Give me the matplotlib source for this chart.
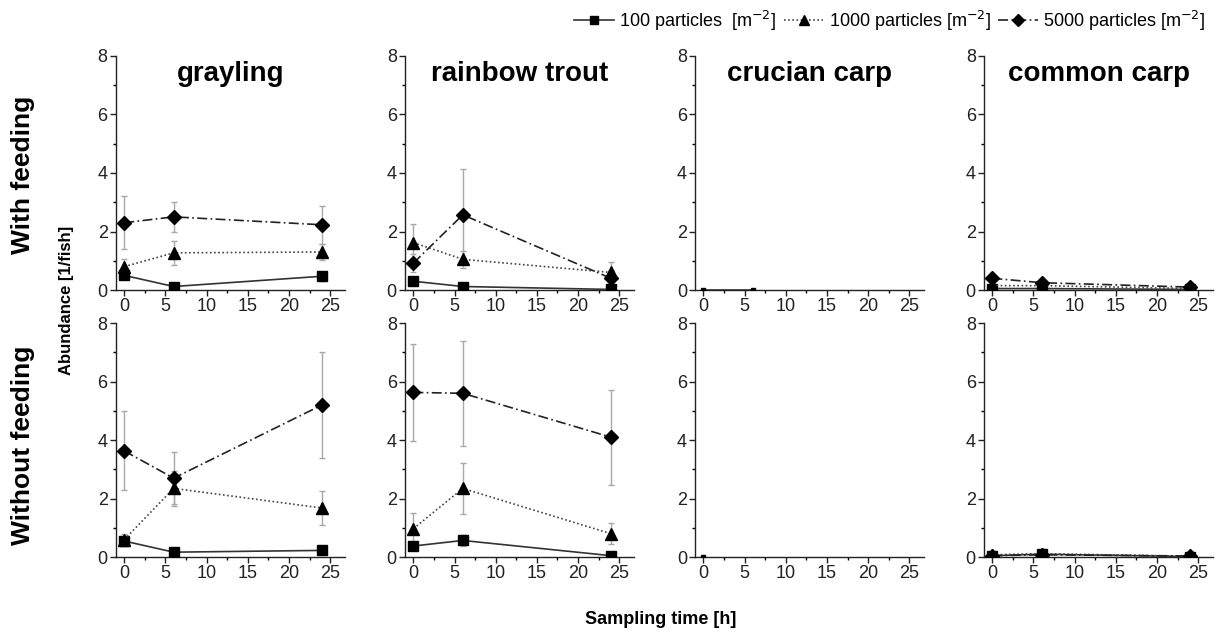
import matplotlib.pyplot as plt
import numpy as np
from matplotlib.ticker import MultipleLocator
from matplotlib.lines import Line2D

plt.rcParams['font.family'] = ['Liberation Sans', 'DejaVu Sans']

# sampling times [h]
times = [0, 6, 24]
species = ['grayling', 'rainbow trout', 'crucian carp', 'common carp']
rows = ['With feeding', 'Without feeding']
series = ['100 particles  [m$^{-2}$]', '1000 particles [m$^{-2}$]', '5000 particles [m$^{-2}$]']
nan = np.nan

# mean abundance [1/fish]: fed[species][series]
fed_mean = [
    [[0.50, 0.12, 0.47], [0.80, 1.27, 1.30], [2.30, 2.50, 2.23]],
    [[0.30, 0.12, 0.02], [1.62, 1.05, 0.60], [0.92, 2.57, 0.40]],
    [[0.00, 0.00, nan], [nan, nan, nan], [nan, nan, nan]],
    [[0.05, 0.05, 0.02], [0.15, 0.15, 0.05], [0.40, 0.25, 0.10]],
]
fed_err = [
    [[0.10, 0.05, 0.15], [0.25, 0.40, 0.27], [0.90, 0.50, 0.65]],
    [[0.05, 0.03, 0.02], [0.62, 0.30, 0.35], [0.30, 1.58, 0.30]],
    [[0.00, 0.00, 0.00], [0.00, 0.00, 0.00], [0.00, 0.00, 0.00]],
    [[0.02, 0.02, 0.01], [0.05, 0.05, 0.02], [0.08, 0.05, 0.03]],
]
unfed_mean = [
    [[0.55, 0.17, 0.23], [0.60, 2.35, 1.68], [3.63, 2.70, 5.20]],
    [[0.38, 0.57, 0.05], [0.97, 2.35, 0.80], [5.63, 5.60, 4.10]],
    [[0.00, nan, nan], [nan, nan, nan], [nan, nan, nan]],
    [[0.05, 0.10, 0.02], [0.08, 0.12, 0.03], [0.05, 0.08, 0.04]],
]
unfed_err = [
    [[0.08, 0.05, 0.05], [0.20, 0.60, 0.58], [1.35, 0.90, 1.80]],
    [[0.10, 0.20, 0.03], [0.55, 0.87, 0.35], [1.65, 1.80, 1.62]],
    [[0.00, 0.00, 0.00], [0.00, 0.00, 0.00], [0.00, 0.00, 0.00]],
    [[0.02, 0.03, 0.01], [0.03, 0.03, 0.01], [0.02, 0.03, 0.02]],
]

markers = ['s', '^', 'D']
msizes = [7, 8, 7.5]
styles = ['-', (0, (1, 1.5)), (0, (6, 2, 1, 2))]
lcolors = ['#333333', '#444444', '#222222']

fig = plt.figure(figsize=(12.24, 6.36), dpi=100)
lefts = [0.0948, 0.331, 0.568, 0.804]
bottoms = [0.544, 0.124]
w, h = 0.187, 0.368

for r, (means, errs) in enumerate([(fed_mean, fed_err), (unfed_mean, unfed_err)]):
    for c in range(4):
        ax = fig.add_axes([lefts[c], bottoms[r], w, h])
        small = (c == 2)
        for s in range(3):
            ax.errorbar(times, means[c][s], yerr=errs[c][s], fmt='none',
                        ecolor='#a8a8a8', elinewidth=1, capsize=2.5, capthick=1, zorder=2)
            ax.plot(times, means[c][s], linestyle=styles[s], color=lcolors[s], lw=1.2,
                    marker=markers[s], ms=3 if small else msizes[s],
                    mfc='black', mec='black', zorder=3)
        ax.set_xlim(-1, 26.8)
        ax.set_ylim(0, 8)
        ax.xaxis.set_major_locator(MultipleLocator(5))
        ax.xaxis.set_minor_locator(MultipleLocator(2.5))
        ax.yaxis.set_major_locator(MultipleLocator(2))
        ax.yaxis.set_minor_locator(MultipleLocator(1))
        for side in ['top', 'right']:
            ax.spines[side].set_visible(False)
        for side in ['left', 'bottom']:
            ax.spines[side].set_color('#222222')
            ax.spines[side].set_linewidth(1.0)
        ax.tick_params(which='major', direction='out', length=4, width=1, labelsize=13,
                       colors='#222222', pad=2)
        ax.tick_params(which='minor', direction='out', length=2.5, width=1)
        if r == 0:
            ax.text(0.5, 0.925, species[c], transform=ax.transAxes, ha='center', va='center',
                    fontsize=20, fontweight='bold')

fig.text(0.019, 0.725, rows[0], rotation=90, ha='center', va='center',
         fontsize=19, fontweight='bold')
fig.text(0.019, 0.30, rows[1], rotation=90, ha='center', va='center',
         fontsize=19, fontweight='bold')
fig.text(0.054, 0.528, 'Abundance [1/fish]', rotation=90, ha='center', va='center',
         fontsize=12, fontweight='bold')
fig.text(0.54, 0.026, 'Sampling time [h]', ha='center', va='center',
         fontsize=13, fontweight='bold')

handles = [Line2D([], [], linestyle=styles[s], color=lcolors[s], lw=1.2, marker=markers[s],
                  ms=msizes[s] - 1, mfc='black', mec='black') for s in range(3)]
fig.legend(handles, series, loc='upper right', bbox_to_anchor=(0.998, 1.012), ncol=3,
           frameon=False, fontsize=13, handlelength=2.2, handletextpad=0.3,
           columnspacing=0.4)

fig.savefig('out.png', dpi=100)
